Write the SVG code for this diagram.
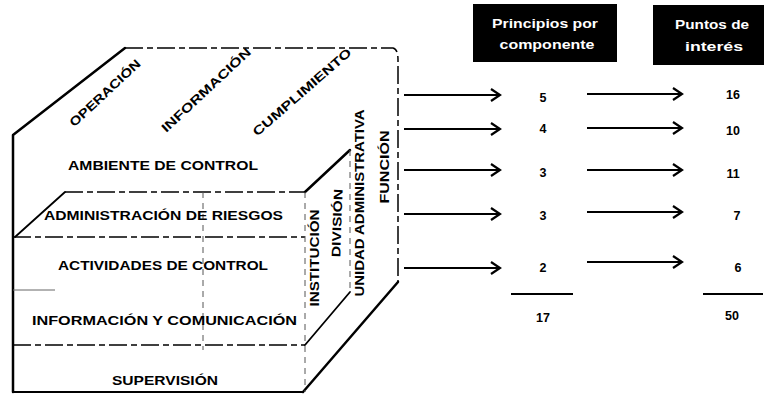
<svg xmlns="http://www.w3.org/2000/svg" width="784" height="395" viewBox="0 0 784 395">
<style>
.bg{fill:#ffffff}
.thick{fill:none;stroke:#000;stroke-width:2.5;stroke-linejoin:round;stroke-linecap:round}
.mid{fill:none;stroke:#000;stroke-width:1.8;stroke-linecap:round}
.dash{fill:none;stroke:#000;stroke-width:1.5;stroke-dasharray:18 4 6 4}
.faint{fill:none;stroke:#555;stroke-width:1;stroke-dasharray:6 5}
.lbl{font-family:"Liberation Sans",Arial,sans-serif;font-weight:bold;font-size:13px;fill:#000}
.side{font-family:"Liberation Sans",Arial,sans-serif;font-weight:bold;font-size:12.5px;fill:#000}
.hdr{font-family:"Liberation Sans",Arial,sans-serif;font-weight:bold;font-size:12.5px;fill:#fff}
.num{font-family:"Liberation Sans",Arial,sans-serif;font-weight:bold;font-size:12.5px;fill:#000;text-anchor:middle}
.arrow{fill:none;stroke:#000;stroke-width:2}
</style>
<defs>
<marker id="chev" markerUnits="userSpaceOnUse" markerWidth="14" markerHeight="14" refX="11" refY="7" orient="auto">
<path d="M2,1 L11,7 L2,13" fill="none" stroke="#000" stroke-width="2.2" stroke-linejoin="miter"/>
</marker>
</defs>
<rect class="bg" x="0" y="0" width="784" height="395"/>

<g id="cube">
  <path class="thick" d="M13,392 L13,135 L125,48"/>
  <path class="dash" d="M125,48 L393,48 Q398,49 398,60 L398,282"/>
  <path class="thick" d="M398,282 L303,392"/>
  <path class="mid" d="M13,392 L303,392"/>
  <path class="mid" d="M15,237 L65,192"/>
  <path class="dash" d="M65,192 L305,192"/>
  <path class="thick" d="M305,192 L350,150"/>
  <path class="dash" d="M13,237 L305,237"/>
  <path class="dash" d="M13,345 L305,345"/>
  <path class="faint" d="M305,192 L305,392"/>
  <path class="faint" d="M350,150 L350,292"/>
  <path class="mid" d="M305,345 L350,292"/>
  <path d="M13,290 L55,290" fill="none" stroke="#666" stroke-width="1"/>
  <path class="faint" d="M203,192 L203,350"/>
</g>

<g id="top-face-labels">
  <text class="side" text-anchor="middle" dy="0.35em" transform="translate(105,93) rotate(-43)" textLength="92" lengthAdjust="spacingAndGlyphs">OPERACIÓN</text>
  <text class="side" text-anchor="middle" dy="0.35em" transform="translate(206,90) rotate(-43)" textLength="117" lengthAdjust="spacingAndGlyphs">INFORMACIÓN</text>
  <text class="side" text-anchor="middle" dy="0.35em" transform="translate(302,92) rotate(-41)" textLength="126" lengthAdjust="spacingAndGlyphs">CUMPLIMIENTO</text>
</g>

<g id="front-labels">
  <text class="lbl" x="68" y="170" textLength="190" lengthAdjust="spacingAndGlyphs">AMBIENTE DE CONTROL</text>
  <text class="lbl" x="44" y="220" textLength="239" lengthAdjust="spacingAndGlyphs">ADMINISTRACIÓN DE RIESGOS</text>
  <text class="lbl" x="58" y="270" textLength="210" lengthAdjust="spacingAndGlyphs">ACTIVIDADES DE CONTROL</text>
  <text class="lbl" x="32" y="325" textLength="265" lengthAdjust="spacingAndGlyphs">INFORMACIÓN Y COMUNICACIÓN</text>
  <text class="lbl" x="112" y="385" textLength="106" lengthAdjust="spacingAndGlyphs">SUPERVISIÓN</text>
</g>

<g id="side-labels">
  <text class="side" text-anchor="middle" dy="0.35em" transform="translate(315,258) rotate(-90)" textLength="97" lengthAdjust="spacingAndGlyphs">INSTITUCIÓN</text>
  <text class="side" text-anchor="middle" dy="0.35em" transform="translate(337,223) rotate(-88)" textLength="68" lengthAdjust="spacingAndGlyphs">DIVISIÓN</text>
  <text class="side" text-anchor="middle" dy="0.35em" transform="translate(360,203) rotate(-90)" textLength="187" lengthAdjust="spacingAndGlyphs">UNIDAD ADMINISTRATIVA</text>
  <text class="side" text-anchor="middle" dy="0.35em" transform="translate(385,167) rotate(-90)" textLength="73" lengthAdjust="spacingAndGlyphs">FUNCIÓN</text>
</g>

<g id="header-principios">
  <rect x="473" y="4" width="144" height="58" fill="#000"/>
  <text class="hdr" x="545" y="28" text-anchor="middle" textLength="106" lengthAdjust="spacingAndGlyphs">Principios  por</text>
  <text class="hdr" x="547" y="49" text-anchor="middle" textLength="95" lengthAdjust="spacingAndGlyphs">componente</text>
</g>

<g id="header-puntos">
  <rect x="653" y="5" width="111" height="60" fill="#000"/>
  <text class="hdr" x="712" y="29" text-anchor="middle" textLength="74" lengthAdjust="spacingAndGlyphs">Puntos de</text>
  <text class="hdr" x="714" y="51" text-anchor="middle" textLength="58" lengthAdjust="spacingAndGlyphs">interés</text>
</g>

<g id="connectors">
  <line class="arrow" x1="404" y1="95" x2="500" y2="95" marker-end="url(#chev)"/>
  <line class="arrow" x1="404" y1="129" x2="500" y2="129" marker-end="url(#chev)"/>
  <line class="arrow" x1="404" y1="170" x2="500" y2="170" marker-end="url(#chev)"/>
  <line class="arrow" x1="404" y1="214" x2="500" y2="214" marker-end="url(#chev)"/>
  <line class="arrow" x1="404" y1="268" x2="500" y2="268" marker-end="url(#chev)"/>
  <line class="arrow" x1="587" y1="94" x2="682" y2="94" marker-end="url(#chev)"/>
  <line class="arrow" x1="587" y1="128" x2="682" y2="128" marker-end="url(#chev)"/>
  <line class="arrow" x1="587" y1="170" x2="682" y2="170" marker-end="url(#chev)"/>
  <line class="arrow" x1="587" y1="212" x2="682" y2="212" marker-end="url(#chev)"/>
  <line class="arrow" x1="587" y1="262" x2="682" y2="262" marker-end="url(#chev)"/>
</g>

<g id="col-principios">
  <text class="num" x="543" y="102">5</text>
  <text class="num" x="543" y="133">4</text>
  <text class="num" x="543" y="177">3</text>
  <text class="num" x="543" y="220">3</text>
  <text class="num" x="543" y="272">2</text>
  <line x1="511" y1="294" x2="573" y2="294" stroke="#000" stroke-width="2"/>
  <text class="num" x="543" y="322">17</text>
</g>

<g id="col-puntos">
  <text class="num" x="733" y="99">16</text>
  <text class="num" x="733" y="135">10</text>
  <text class="num" x="733" y="178">11</text>
  <text class="num" x="737" y="220">7</text>
  <text class="num" x="738" y="272">6</text>
  <line x1="703" y1="294" x2="763" y2="294" stroke="#000" stroke-width="2"/>
  <text class="num" x="732" y="320">50</text>
</g>
</svg>
